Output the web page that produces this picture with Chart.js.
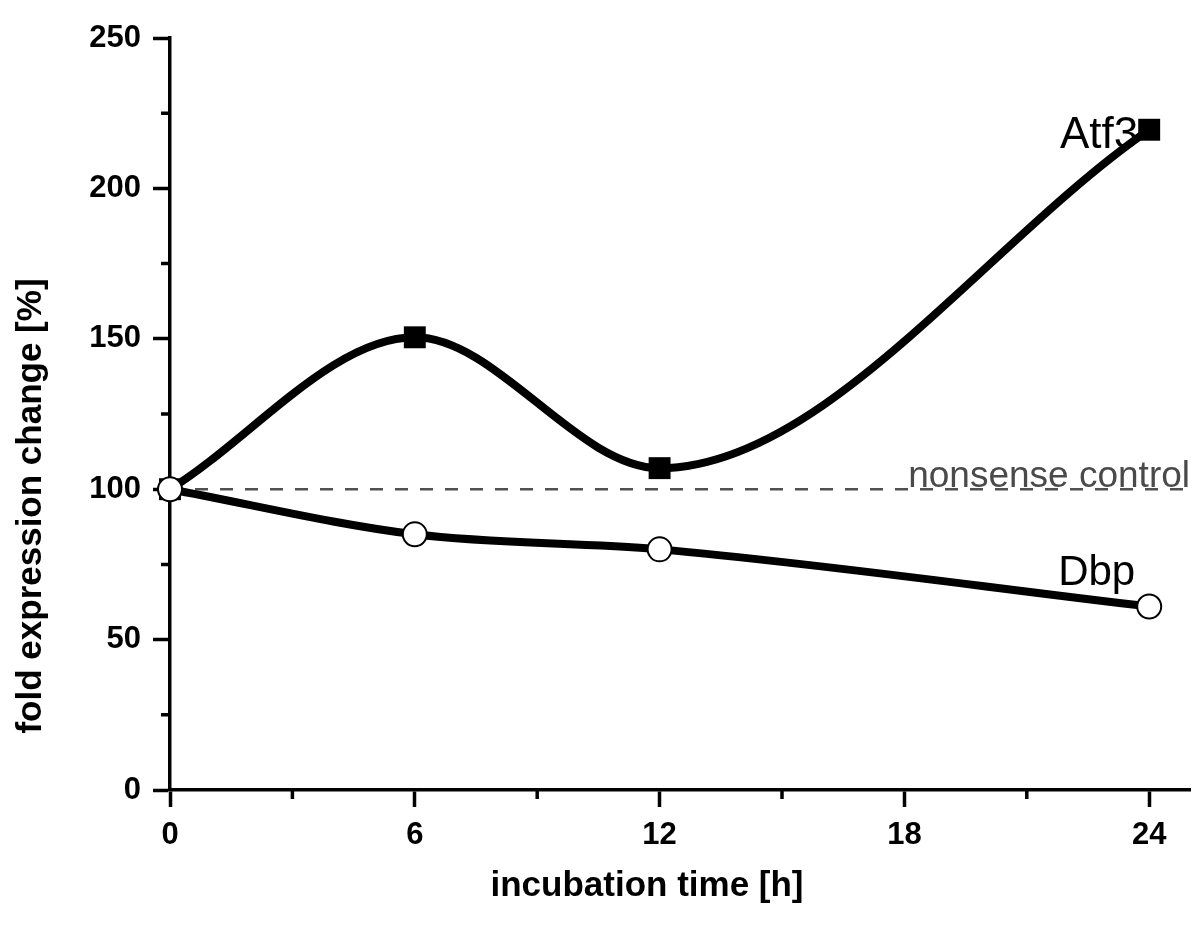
<!DOCTYPE html>
<html>
<head>
<meta charset="utf-8">
<script src="https://cdn.jsdelivr.net/npm/chart.js@4.4.1/dist/chart.umd.min.js"></script>
<style>
  html, body { margin: 0; padding: 0; background: #fff; overflow: hidden; }
  #wrap { width: 1200px; height: 941px; }
  canvas { display: block; }
</style>
</head>
<body>
<div id="wrap"><canvas id="myChart" width="1200" height="941"></canvas></div>
<script>
var hours = [0, 6, 12, 24];
var atf3 = [100, 150.5, 107, 219.5];
var dbp = [100, 85, 80, 61];
var controlX = [0, 25];
var controlY = [100, 100];
var xTicks = [0, 6, 12, 18, 24];
var xMinor = [3, 9, 15, 21];
var yMinor = [25, 75, 125, 175, 225];

var FONT = "Arial, 'Liberation Sans', sans-serif";

function pts(xs, ys) {
  return xs.map(function (x, i) { return { x: x, y: ys[i] }; });
}

// titles, series labels and the minor ticks
var extras = {
  id: 'extras',
  afterDraw: function (chart) {
    var ctx = chart.ctx;
    var xs = chart.scales.x, ys = chart.scales.y;
    ctx.save();

    ctx.strokeStyle = '#000';
    ctx.lineWidth = 3.5;
    ctx.beginPath();
    xMinor.forEach(function (v) {
      var px = xs.getPixelForValue(v);
      ctx.moveTo(px, ys.bottom); ctx.lineTo(px, ys.bottom + 9);
    });
    yMinor.forEach(function (v) {
      var py = ys.getPixelForValue(v);
      ctx.moveTo(xs.left, py); ctx.lineTo(xs.left - 9, py);
    });
    ctx.stroke();

    ctx.fillStyle = '#000';
    ctx.font = 'bold 35px ' + FONT;
    ctx.textAlign = 'center';
    ctx.textBaseline = 'middle';
    ctx.fillText('incubation time [h]', 647, 886);
    ctx.save();
    ctx.translate(31, 506);
    ctx.rotate(-Math.PI / 2);
    ctx.fillText('fold expression change [%]', 0, 0);
    ctx.restore();

    ctx.font = '44px ' + FONT;
    ctx.textAlign = 'right';
    ctx.textBaseline = 'alphabetic';
    ctx.fillText('Atf3', xs.getPixelForValue(24) - 11, ys.getPixelForValue(atf3[3]) + 18);
    ctx.font = '42px ' + FONT;
    ctx.fillText('Dbp', xs.getPixelForValue(24) - 14, ys.getPixelForValue(dbp[3]) - 22);

    ctx.fillStyle = '#4a4a4a';
    ctx.font = '37px ' + FONT;
    ctx.fillText('nonsense control', xs.right, ys.getPixelForValue(controlY[0]) - 2);
    ctx.restore();
  }
};

new Chart('myChart', {
  type: 'line',
  data: {
    datasets: [{
      label: 'Dbp',
      data: pts(hours, dbp),
      borderColor: '#000',
      borderWidth: 8,
      cubicInterpolationMode: 'monotone',
      pointStyle: 'circle',
      pointRadius: 12,
      pointBorderWidth: 2,
      pointBackgroundColor: '#fff',
      pointBorderColor: '#000',
      clip: false
    }, {
      label: 'Atf3',
      data: pts(hours, atf3),
      borderColor: '#000',
      borderWidth: 8,
      cubicInterpolationMode: 'monotone',
      pointStyle: 'rect',
      pointRadius: 15.5,
      pointBorderWidth: 0,
      pointBackgroundColor: '#000',
      pointBorderColor: '#000',
      clip: false
    }, {
      label: 'nonsense control',
      data: pts(controlX, controlY),
      borderColor: '#505050',
      borderWidth: 2.5,
      borderDash: [13, 12],
      pointRadius: 0,
      tension: 0
    }]
  },
  options: {
    responsive: false,
    animation: false,
    // big markers would otherwise add their own margin on the right
    layout: { autoPadding: false, padding: { top: 38, right: 10, left: 0, bottom: 0 } },
    plugins: {
      legend: { display: false },
      tooltip: { enabled: false }
    },
    scales: {
      x: {
        type: 'linear',
        min: 0,
        max: 25,
        afterBuildTicks: function (scale) {
          scale.ticks = xTicks.map(function (v) { return { value: v }; });
        },
        afterFit: function (scale) { scale.height = 151; },
        border: { display: true, color: '#000', width: 3.5 },
        grid: { drawOnChartArea: false, tickLength: 17, tickWidth: 3.5, tickColor: '#000' },
        ticks: {
          color: '#000',
          padding: 10,
          maxRotation: 0,
          font: { family: FONT, size: 31, weight: 'bold' }
        }
      },
      y: {
        min: 0,
        max: 250,
        ticks: {
          stepSize: 50,
          color: '#000',
          padding: 12,
          font: { family: FONT, size: 31, weight: 'bold' }
        },
        afterFit: function (scale) { scale.width = 170; },
        border: { display: true, color: '#000', width: 3.5 },
        grid: { drawOnChartArea: false, tickLength: 17, tickWidth: 3.5, tickColor: '#000' }
      }
    }
  },
  plugins: [extras]
});
</script>
</body>
</html>
